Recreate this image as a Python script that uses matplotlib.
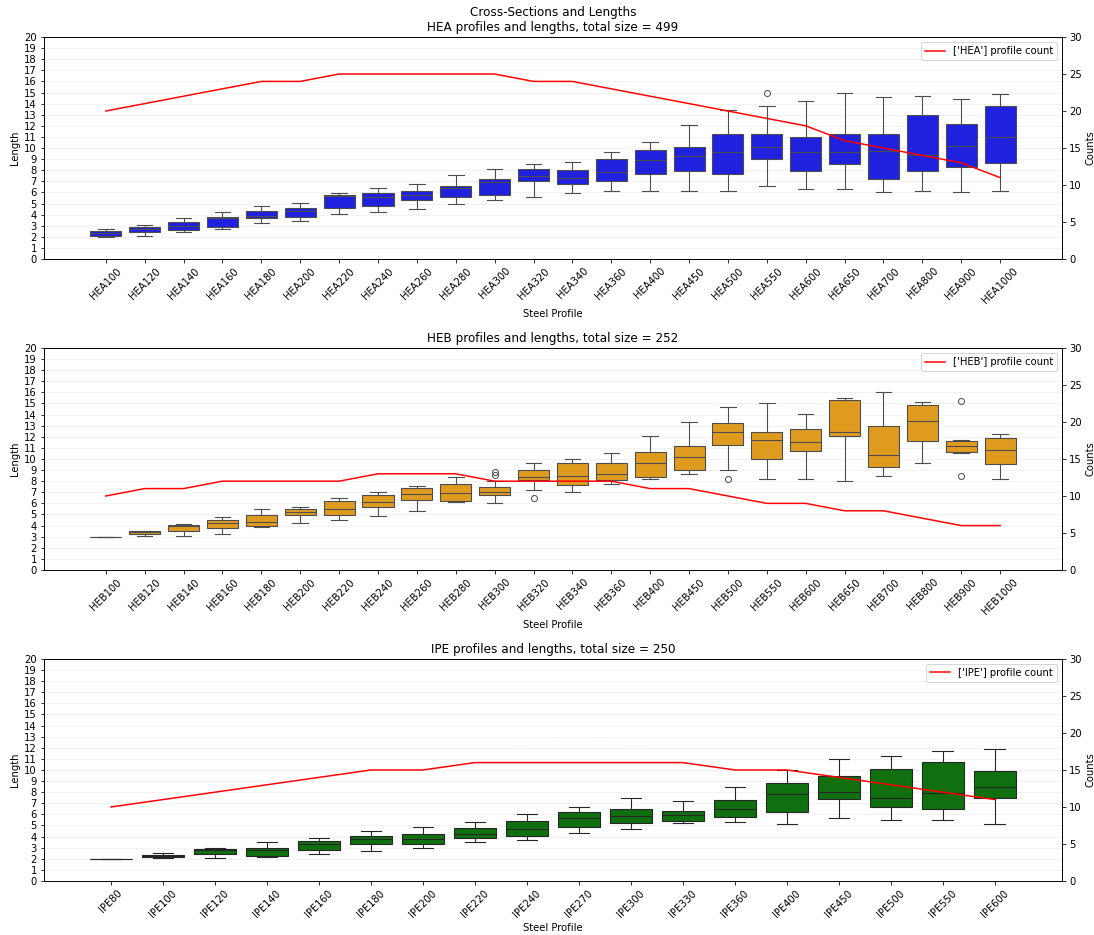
import matplotlib.pyplot as plt

# ---- HEA series ----
hea_profiles = ["HEA100", "HEA120", "HEA140", "HEA160", "HEA180", "HEA200",
                "HEA220", "HEA240", "HEA260", "HEA280", "HEA300", "HEA320",
                "HEA340", "HEA360", "HEA400", "HEA450", "HEA500", "HEA550",
                "HEA600", "HEA650", "HEA700", "HEA800", "HEA900", "HEA1000"]
hea_counts = [20, 21, 22, 23, 24, 24, 25, 25, 25, 25, 25, 24,
              24, 23, 22, 21, 20, 19, 18, 16, 15, 14, 13, 11]
hea_lo = [1.98, 2.07, 2.4, 2.7, 3.21, 3.39, 4.02, 4.2, 4.47, 5.0, 5.31, 5.6,
          5.91, 6.15, 6.09, 6.09, 6.09, 6.6, 6.33, 6.33, 6.0, 6.09, 6.0, 6.09]
hea_q1 = [2.07, 2.4, 2.61, 2.91, 3.66, 3.78, 4.59, 4.8, 5.31, 5.58, 5.79, 7.02,
          6.72, 7.02, 7.65, 7.95, 7.65, 9.03, 7.95, 8.58, 7.23, 7.95, 8.31, 8.64]
hea_med = [2.3, 2.67, 2.97, 3.7, 3.87, 4.35, 5.65, 5.55, 5.73, 6.36, 6.9, 7.47,
           7.32, 7.8, 8.88, 9.3, 9.6, 10.07, 9.6, 9.6, 9.69, 9.39, 10.22, 11.03]
hea_q3 = [2.52, 2.88, 3.36, 3.81, 4.29, 4.62, 5.73, 5.91, 6.12, 6.6, 7.17, 8.1,
          7.98, 8.97, 9.78, 10.1, 11.3, 11.3, 10.97, 11.3, 11.3, 13.01, 12.2, 13.79]
hea_hi = [2.67, 3.09, 3.66, 4.2, 4.8, 5.07, 5.91, 6.42, 6.72, 7.53, 8.1, 8.6,
          8.76, 9.66, 10.5, 12.08, 13.4, 13.79, 14.21, 14.99, 14.6, 14.72, 14.39, 14.9]
hea_fliers = {"HEA550": [14.93]}

# ---- HEB series ----
heb_profiles = ["HEB100", "HEB120", "HEB140", "HEB160", "HEB180", "HEB200",
                "HEB220", "HEB240", "HEB260", "HEB280", "HEB300", "HEB320",
                "HEB340", "HEB360", "HEB400", "HEB450", "HEB500", "HEB550",
                "HEB600", "HEB650", "HEB700", "HEB800", "HEB900", "HEB1000"]
heb_counts = [10, 11, 11, 12, 12, 12, 12, 13, 13, 13, 12, 12,
              12, 12, 11, 11, 10, 9, 9, 8, 8, 7, 6, 6]
heb_lo = [3.0, 3.06, 3.06, 3.24, 3.87, 4.26, 4.5, 4.83, 5.31, 6.15, 6.03, 7.23,
          7.02, 7.74, 8.16, 8.64, 8.97, 8.16, 8.22, 8.0, 8.43, 9.6, 10.55, 8.22]
heb_q1 = [3.0, 3.24, 3.51, 3.75, 3.96, 4.92, 4.98, 5.64, 6.3, 6.24, 6.75, 8.1,
          7.65, 8.07, 8.37, 8.97, 11.27, 9.96, 10.73, 12.05, 9.24, 11.6, 10.61, 9.54]
heb_med = [3.0, 3.39, 3.93, 4.26, 4.32, 5.25, 5.52, 6.15, 6.87, 6.93, 7.05, 8.4,
           8.46, 8.64, 9.63, 10.22, 12.47, 11.72, 11.51, 12.47, 10.4, 13.46, 11.15, 10.79]
heb_q3 = [3.0, 3.48, 4.05, 4.47, 4.95, 5.46, 6.24, 6.72, 7.38, 7.74, 7.44, 8.97,
          9.6, 9.6, 10.64, 11.18, 13.22, 12.44, 12.71, 15.29, 12.98, 14.9, 11.66, 11.93]
heb_hi = [3.0, 3.48, 4.14, 4.74, 5.46, 5.7, 6.51, 7.02, 7.56, 8.37, 8.0, 9.6,
          9.98, 10.58, 12.05, 13.31, 14.66, 15.05, 14.09, 15.5, 16.04, 15.11, 11.72, 12.29]
heb_fliers = {"HEB300": [8.58, 8.82], "HEB320": [6.48], "HEB500": [8.22],
              "HEB900": [15.23, 8.43]}

# ---- IPE series ----
ipe_profiles = ["IPE80", "IPE100", "IPE120", "IPE140", "IPE160", "IPE180",
                "IPE200", "IPE220", "IPE240", "IPE270", "IPE300", "IPE330",
                "IPE360", "IPE400", "IPE450", "IPE500", "IPE550", "IPE600"]
ipe_counts = [10, 11, 12, 13, 14, 15, 15, 16, 16, 16, 16, 16,
              15, 15, 14, 13, 12, 11]
ipe_lo = [2.0, 2.1, 2.1, 2.19, 2.4, 2.72, 2.96, 3.5, 3.71, 4.31, 4.64, 5.24,
          5.3, 5.12, 5.63, 5.48, 5.48, 5.12]
ipe_q1 = [2.0, 2.16, 2.4, 2.28, 2.75, 3.35, 3.35, 3.86, 4.01, 4.82, 5.24, 5.42,
          5.75, 6.23, 7.34, 6.62, 6.47, 7.49]
ipe_med = [2.0, 2.28, 2.75, 2.75, 3.29, 3.77, 3.77, 4.25, 4.67, 5.63, 5.81, 5.9,
           6.5, 7.87, 8.05, 7.49, 7.93, 8.5]
ipe_q3 = [2.0, 2.37, 2.84, 2.96, 3.62, 4.01, 4.22, 4.73, 5.36, 6.2, 6.47, 6.26,
          7.25, 8.83, 9.49, 10.12, 10.69, 9.88]
ipe_hi = [2.0, 2.48, 2.96, 3.5, 3.89, 4.49, 4.88, 5.27, 6.02, 6.62, 7.49, 7.19,
          8.47, 9.97, 10.99, 11.29, 11.71, 11.92]
ipe_fliers = {}

panels = [
    ("HEA", hea_profiles, hea_counts, hea_lo, hea_q1, hea_med, hea_q3, hea_hi,
     hea_fliers, "#2020df", (0.3, 0.3, 0.3)),
    ("HEB", heb_profiles, heb_counts, heb_lo, heb_q1, heb_med, heb_q3, heb_hi,
     heb_fliers, "#df9b20", (0.3, 0.3, 0.3)),
    ("IPE", ipe_profiles, ipe_counts, ipe_lo, ipe_q1, ipe_med, ipe_q3, ipe_hi,
     ipe_fliers, "#107010", (0.15, 0.15, 0.15)),
]

fig = plt.figure(figsize=(1094 / 72, 935 / 72), dpi=72)

left, width, height = 0.0402, 0.9305, 0.2374
bottoms = [0.723, 0.3904, 0.0578]

for k, (name, profiles, counts, lo, q1, med, q3, hi, fliers, fc, lc) in enumerate(panels):
    ax = fig.add_axes([left, bottoms[k], width, height])
    n = len(profiles)
    stats = []
    for i, p in enumerate(profiles):
        stats.append({
            "whislo": lo[i], "q1": q1[i], "med": med[i], "q3": q3[i],
            "whishi": hi[i], "fliers": fliers.get(p, []), "label": p,
        })
    ax.bxp(
        stats,
        positions=range(n),
        widths=0.8,
        patch_artist=True,
        boxprops=dict(facecolor=fc, edgecolor=lc, linewidth=1.1),
        medianprops=dict(color=lc, linewidth=1.1),
        whiskerprops=dict(color=lc, linewidth=1.1),
        capprops=dict(color=lc, linewidth=1.1),
        flierprops=dict(marker="o", markerfacecolor="none",
                        markeredgecolor=lc, markersize=6),
    )
    ax.set_ylim(0, 20)
    ax.set_yticks(range(0, 21))
    ax.set_xticks(range(n))
    ax.set_xticklabels(profiles, rotation=45)
    span = n - 0.2
    ax.set_xlim(-0.4 - 0.05 * span, n - 0.6 + 0.05 * span)
    ax.yaxis.grid(True, alpha=0.2)
    ax.set_axisbelow(True)
    ax.set_xlabel("Steel Profile")
    ax.set_ylabel("Length")

    title = f"{name} profiles and lengths, total size = {sum(counts)}"
    if k == 0:
        title = "Cross-Sections and Lengths\n" + title
    ax.set_title(title)

    ax2 = ax.twinx()
    ax2.plot(range(n), counts, color="red", linewidth=1.5,
             label=f"{[name]} profile count")
    ax2.set_ylim(0, 30)
    ax2.set_yticks(range(0, 31, 5))
    ax2.set_ylabel("Counts")
    ax2.legend(loc="upper right")

fig.savefig("out.png", dpi=72)
